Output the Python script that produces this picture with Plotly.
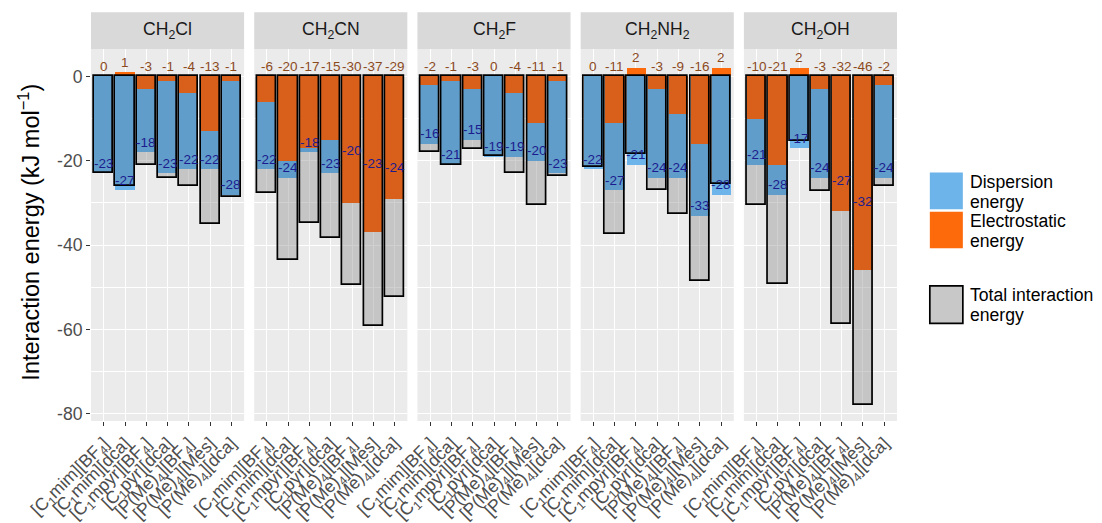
import numpy as np
import plotly.graph_objects as go
from plotly.subplots import make_subplots

# ---------------- data (kJ/mol) ----------------
groups = ["CH<sub>2</sub>Cl", "CH<sub>2</sub>CN", "CH<sub>2</sub>F",
          "CH<sub>2</sub>NH<sub>2</sub>", "CH<sub>2</sub>OH"]
ionic_liquids = ["[C<sub>1</sub>mim][BF<sub>4</sub>]", "[C<sub>1</sub>mim][dca]",
                 "[C<sub>1</sub>mpyr][BF<sub>4</sub>]", "[C<sub>1</sub>pyr][dca]",
                 "[P(Me)<sub>4</sub>][BF<sub>4</sub>]", "[P(Me)<sub>4</sub>][Mes]",
                 "[P(Me)<sub>4</sub>][dca]"]

elec_CH2Cl = [0, 1, -3, -1, -4, -13, -1]
disp_CH2Cl = [-23, -27, -18, -23, -22, -22, -28]
total_CH2Cl = [-23, -26, -21, -24, -26, -35, -28.6]

elec_CH2CN = [-6, -20, -17, -15, -30, -37, -29]
disp_CH2CN = [-22, -24, -18, -23, -20, -23, -24]
total_CH2CN = [-27.7, -43.5, -34.7, -38.2, -49.5, -59.2, -52.4]

elec_CH2F = [-2, -1, -3, 0, -4, -11, -1]
disp_CH2F = [-16, -21, -15, -19, -19, -20, -23]
total_CH2F = [-18, -21.1, -17.2, -18.8, -22.9, -30.4, -23.5]

elec_CH2NH2 = [0, -11, 2, -3, -9, -16, 2]
disp_CH2NH2 = [-22, -27, -21, -24, -24, -33, -28]
total_CH2NH2 = [-21.4, -37.3, -18.4, -26.9, -32.6, -48.4, -25.6]

elec_CH2OH = [-10, -21, 2, -3, -32, -46, -2]
disp_CH2OH = [-21, -28, -17, -24, -27, -32, -24]
total_CH2OH = [-30.6, -49.3, -15.2, -27.1, -58.7, -77.8, -26]

elec_all = [elec_CH2Cl, elec_CH2CN, elec_CH2F, elec_CH2NH2, elec_CH2OH]
disp_all = [disp_CH2Cl, disp_CH2CN, disp_CH2F, disp_CH2NH2, disp_CH2OH]
total_all = [total_CH2Cl, total_CH2CN, total_CH2F, total_CH2NH2, total_CH2OH]

y_ticks = [0, -20, -40, -60, -80]
y_ticktext = ["0", "-20", "-40", "-60", "-80"]
y_minor = [-10, -30, -50, -70]

# ---------------- style ----------------
FONT = "Liberation Sans, Arial, sans-serif"
LIGHT_BLUE = "#6cb4e9"
LIGHT_ORANGE = "#fc6a0c"
DARK_BLUE = "#619dca"
DARK_ORANGE = "#d8601a"
GREY_FILL = "rgba(155,155,155,0.47)"
PANEL_BG = "#ebebeb"
STRIP_BG = "#d9d9d9"
ELEC_TXT = "#8b4a1c"
DISP_TXT = "#1c1c8e"

OFF = 8  # page body margin
W, H = 1102 - OFF, 523 - OFF
# panel edges in screen pixels
L, R, T, B = 91.3, 896.7, 49.3, 420.7


def px(x):
    return (x - L) / (R - L)


def py(y):
    return (B - y) / (B - T)


fig = make_subplots(rows=1, cols=5, shared_yaxes=True,
                    horizontal_spacing=10.1 / (R - L))

xpos = np.arange(len(ionic_liquids))
for i in range(5):
    col = i + 1
    E = np.array(elec_all[i], dtype=float)
    D = np.array(disp_all[i], dtype=float)
    Tt = np.array(total_all[i], dtype=float)
    dark_blue = np.maximum(D, Tt)
    dark_orange = np.clip(E, Tt, 0)
    common = dict(x=xpos, width=0.9, hoverinfo="skip", showlegend=False)
    fig.add_trace(go.Bar(y=Tt, marker=dict(color=GREY_FILL, line=dict(width=0)), **common), 1, col)
    fig.add_trace(go.Bar(y=D, marker=dict(color=LIGHT_BLUE, line=dict(width=0)), **common), 1, col)
    fig.add_trace(go.Bar(y=E, marker=dict(color=LIGHT_ORANGE, line=dict(width=0)), **common), 1, col)
    fig.add_trace(go.Bar(y=dark_blue, marker=dict(color=DARK_BLUE, line=dict(width=0)), **common), 1, col)
    fig.add_trace(go.Bar(y=dark_orange, marker=dict(color=DARK_ORANGE, line=dict(width=0)), **common), 1, col)
    fig.add_trace(go.Bar(y=Tt, marker=dict(color="rgba(0,0,0,0)",
                                           line=dict(color="black", width=1.7)), **common), 1, col)

    xa = "x" if col == 1 else f"x{col}"
    ya = "y" if col == 1 else f"y{col}"
    for k in range(len(xpos)):
        fig.add_annotation(x=xpos[k], y=max(E[k], 0), xref=xa, yref=ya,
                           text=f"{int(E[k])}", showarrow=False, xanchor="center",
                           yanchor="middle", yshift=10,
                           font=dict(family=FONT, size=13.5, color=ELEC_TXT))
        fig.add_annotation(x=xpos[k], y=D[k], xref=xa, yref=ya,
                           text=f"{int(D[k])}", showarrow=False, xanchor="center",
                           yanchor="middle", yshift=10,
                           font=dict(family=FONT, size=13.5, color=DISP_TXT))

    fig.update_xaxes(range=[-0.6, 6.6], tickmode="array", tickvals=xpos, ticktext=ionic_liquids,
                     tickangle=-45, ticks="outside", ticklen=4, tickwidth=1, tickcolor="#333333",
                     tickfont=dict(family=FONT, size=17.6, color="#4d4d4d"),
                     showgrid=True, gridcolor="white", gridwidth=1.4, zeroline=False,
                     showline=False, fixedrange=True, automargin=False, row=1, col=col)
    fig.update_yaxes(range=[-81.7, 6.5], tickmode="array", tickvals=y_ticks,
                     ticktext=y_ticktext,
                     minor=dict(tickmode="array", tickvals=y_minor, showgrid=True,
                                gridcolor="white", gridwidth=0.7, ticks=""),
                     showgrid=True, gridcolor="white", gridwidth=1.4, zeroline=False,
                     showline=False, fixedrange=True, automargin=False, row=1, col=col)
    if col == 1:
        fig.update_yaxes(ticks="outside", ticklen=4, tickwidth=1, tickcolor="#333333",
                         tickfont=dict(family=FONT, size=17.6, color="#4d4d4d"),
                         row=1, col=col)
    else:
        fig.update_yaxes(ticks="", showticklabels=False, row=1, col=col)

fig.update_layout(
    width=W, height=H, barmode="overlay", bargap=0,
    margin=dict(l=L - OFF, r=(W + OFF) - R, t=T - OFF, b=(H + OFF) - B, pad=0,
                autoexpand=False),
    paper_bgcolor="white", plot_bgcolor=PANEL_BG,
    showlegend=False, font=dict(family=FONT),
)

# facet strips
for i in range(5):
    key = "xaxis" if i == 0 else f"xaxis{i + 1}"
    d0, d1 = fig.layout[key].domain
    fig.add_shape(type="rect", xref="paper", yref="paper", x0=d0, x1=d1, y0=1, y1=py(12.7),
                  fillcolor=STRIP_BG, line=dict(width=0), layer="below")
    fig.add_annotation(xref="paper", yref="paper", x=(d0 + d1) / 2, y=py(31), text=groups[i],
                       showarrow=False, xanchor="center", yanchor="middle",
                       font=dict(family=FONT, size=17.6, color="#1a1a1a"))

# y-axis title
fig.add_annotation(xref="paper", yref="paper", x=px(29), y=py(232), textangle=-90,
                   text="Interaction energy (kJ mol<sup>\u22121</sup>)", showarrow=False,
                   xanchor="center", yanchor="middle",
                   font=dict(family=FONT, size=23.5, color="black"))

# legend (drawn manually)
keys = [
    (172.7, 209.3, LIGHT_BLUE, None, ["Dispersion", "energy"], [182, 202]),
    (211.7, 248.3, LIGHT_ORANGE, None, ["Electrostatic", "energy"], [221, 240.5]),
    (285.7, 323.3, "#c8c8c8", "black", ["Total interaction", "energy"], [295, 314.5]),
]
for y0, y1, fc, lc, lines, ys in keys:
    fig.add_shape(type="rect", xref="paper", yref="paper", x0=px(929.5), x1=px(962.5),
                  y0=py(y1), y1=py(y0), fillcolor=fc,
                  line=dict(color=lc if lc else fc, width=1.7 if lc else 0))
    for txt, yy in zip(lines, ys):
        fig.add_annotation(xref="paper", yref="paper", x=px(967.5), y=py(yy), text=txt,
                           showarrow=False, xanchor="left", yanchor="middle",
                           font=dict(family=FONT, size=17.6, color="black"))

fig.write_html("out.html")
